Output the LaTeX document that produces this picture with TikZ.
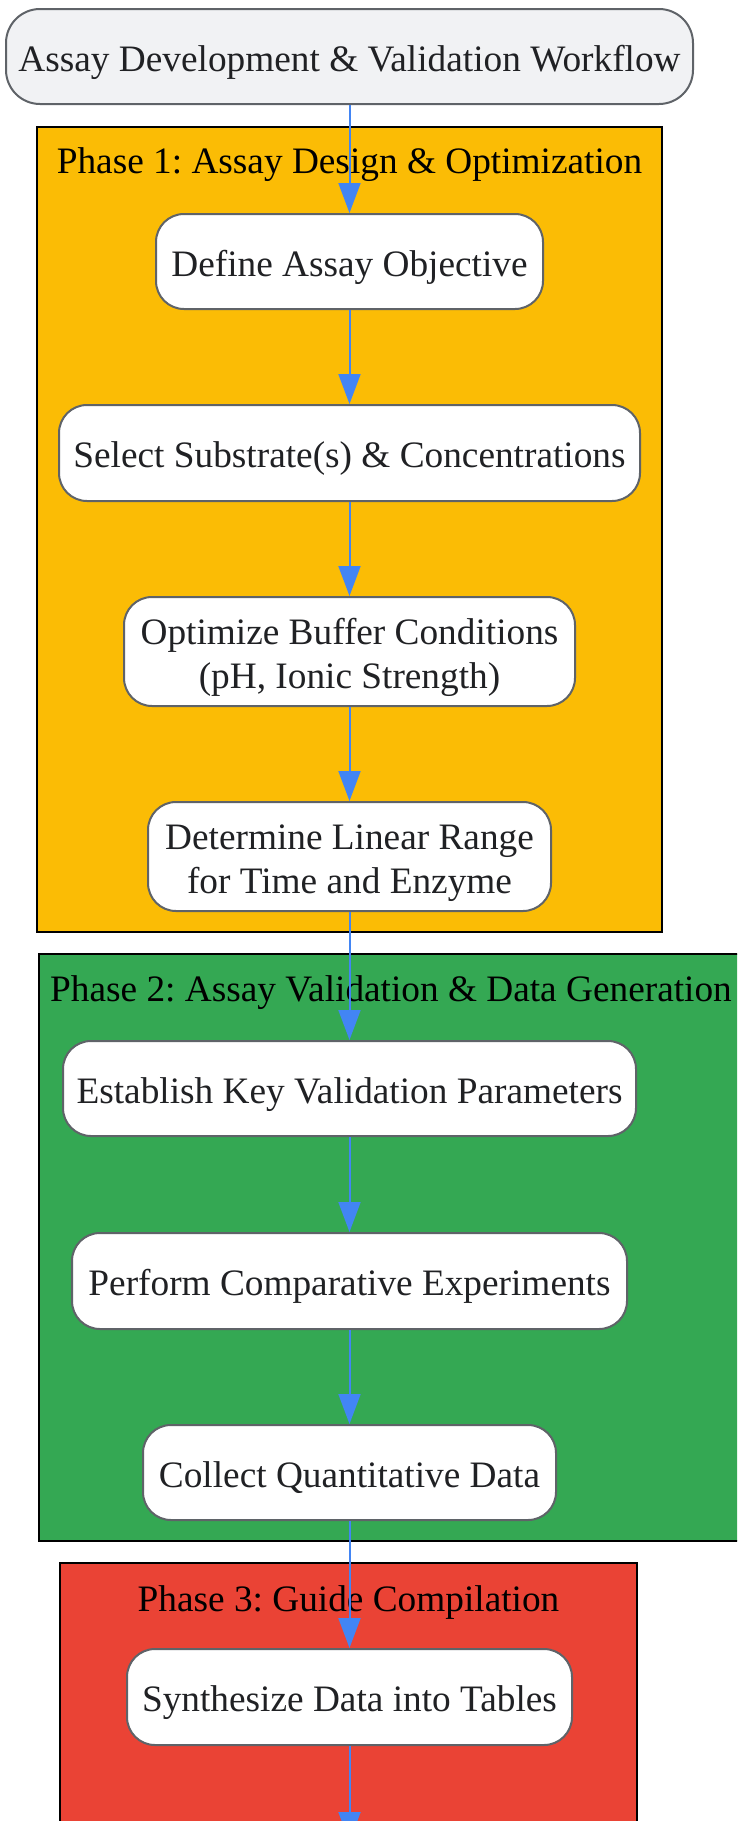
\documentclass[tikz,border=0pt]{standalone}
\usepackage{fontspec}
\setmainfont{Liberation Serif}
\usetikzlibrary{arrows.meta}
\definecolor{titlefill}{HTML}{F1F2F4}
\definecolor{nodeline}{HTML}{5F6368}
\definecolor{nodetext}{HTML}{202124}
\definecolor{phaseone}{HTML}{FBBC05}
\definecolor{phasetwo}{HTML}{34A853}
\definecolor{phasethree}{HTML}{EA4335}
\definecolor{arrowblue}{HTML}{4285F4}
\newcommand{\nodetxt}[1]{\raisebox{-6pt}[\height][\depth]{\begin{tabular}{@{}c@{}}#1\end{tabular}}}
\tikzset{
  stepbox/.style={draw=nodeline, line width=2pt, fill=white, rounded corners=28pt,
    inner sep=0pt, align=center, text=nodetext,
    font=\fontsize{37.3}{44}\selectfont\frenchspacing},
  titlebox/.style={stepbox, fill=titlefill, rounded corners=34pt},
  phasebox/.style={draw=black, line width=2pt},
  phaselabel/.style={anchor=base, inner sep=0pt, text=black, font=\fontsize{37.3}{44}\selectfont\frenchspacing},
  flow/.style={draw=arrowblue, line width=2pt, -{Triangle[length=30pt,width=22pt]}}
}
\begin{document}
\begin{tikzpicture}[x=1pt,y=-1pt]
\useasboundingbox (0,0) rectangle (737,1821);
\clip (0,0) rectangle (737,1821);
% phase containers
\path[phasebox, fill=phaseone] (37,127) rectangle (662,932);
\path[phasebox, fill=phasetwo] (39,954) rectangle (743,1541);
\path[phasebox, fill=phasethree] (60,1563) rectangle (637,1900);
\node[phaselabel] (p1) at (349.5,173) {Phase 1: Assay Design \& Optimization};
\node[phaselabel] (p2) at (391,1001) {Phase 2: Assay Validation \& Data Generation};
\node[phaselabel] (p3) at (348.5,1611) {Phase 3: Guide Compilation};
% nodes
\node[titlebox, minimum width=687pt, minimum height=95pt] (t) at (349.5,56.5) {\nodetxt{Assay Development \& Validation Workflow}};
\node[stepbox, minimum width=387pt, minimum height=95pt] (a) at (349.5,261.5) {\nodetxt{Define Assay Objective}};
\node[stepbox, minimum width=581pt, minimum height=96pt] (b) at (349.5,453) {\nodetxt{Select Substrate(s) \& Concentrations}};
\node[stepbox, minimum width=451pt, minimum height=109pt] (c) at (349.5,651.5) {\nodetxt{Optimize Buffer Conditions\\(pH, Ionic Strength)}};
\node[stepbox, minimum width=403pt, minimum height=109pt] (d) at (349.5,856.5) {\nodetxt{Determine Linear Range\\for Time and Enzyme}};
\node[stepbox, minimum width=573pt, minimum height=95pt] (e) at (349.5,1088.5) {\nodetxt{Establish Key Validation Parameters}};
\node[stepbox, minimum width=555pt, minimum height=96pt] (f) at (349.5,1281) {\nodetxt{Perform Comparative Experiments}};
\node[stepbox, minimum width=413pt, minimum height=95pt] (g) at (349.5,1472.5) {\nodetxt{Collect Quantitative Data}};
\node[stepbox, minimum width=445pt, minimum height=96pt] (h) at (349.5,1697) {\nodetxt{Synthesize Data into Tables}};
\coordinate (out) at (349.5,1842);
% connectors
\draw[flow] (t) -- (a);
\draw[flow] (a) -- (b);
\draw[flow] (b) -- (c);
\draw[flow] (c) -- (d);
\draw[flow] (d) -- (e);
\draw[flow] (e) -- (f);
\draw[flow] (f) -- (g);
\draw[flow] (g) -- (h);
\draw[flow] (h) -- (out);
\end{tikzpicture}
\end{document}
